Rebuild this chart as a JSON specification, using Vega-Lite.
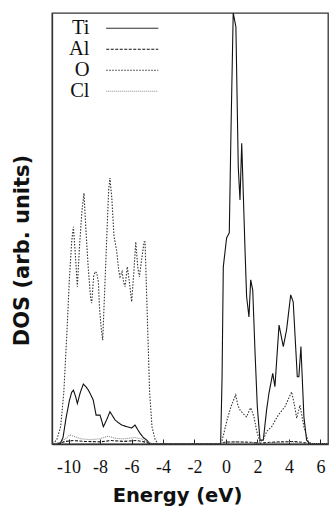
{
  "$schema": "https://vega.github.io/schema/vega-lite/v6.json",
  "width": 276,
  "height": 431,
  "autosize": "none",
  "padding": {"left": 52, "top": 13, "right": 3, "bottom": 62},
  "background": "white",
  "config": {
    "view": {"stroke": "#333", "strokeWidth": 1.3},
    "axis": {"grid": false, "domainColor": "#333", "domainWidth": 1.3},
    "legend": {
      "symbolType": "M-5.2,0H5.2",
      "symbolSize": 100,
      "symbolStrokeWidth": 1,
      "labelFont": "Liberation Serif",
      "labelFontSize": 20.5,
      "labelColor": "#111",
      "labelAlign": "right",
      "labelBaseline": "middle",
      "labelOffset": -53,
      "rowPadding": 0
    }
  },
  "data": {"values": [
    {"E": -11, "dos": 0, "s": "Ti"},
    {"E": -10.54, "dos": 0, "s": "Ti"},
    {"E": -10.35, "dos": 0.15, "s": "Ti"},
    {"E": -10.16, "dos": 0.6, "s": "Ti"},
    {"E": -9.95, "dos": 1.0, "s": "Ti"},
    {"E": -9.8, "dos": 1.2, "s": "Ti"},
    {"E": -9.69, "dos": 1.25, "s": "Ti"},
    {"E": -9.55, "dos": 1.1, "s": "Ti"},
    {"E": -9.44, "dos": 0.94, "s": "Ti"},
    {"E": -9.25, "dos": 1.2, "s": "Ti"},
    {"E": -9.06, "dos": 1.39, "s": "Ti"},
    {"E": -8.9, "dos": 1.33, "s": "Ti"},
    {"E": -8.74, "dos": 1.25, "s": "Ti"},
    {"E": -8.6, "dos": 1.15, "s": "Ti"},
    {"E": -8.43, "dos": 1.02, "s": "Ti"},
    {"E": -8.25, "dos": 0.67, "s": "Ti"},
    {"E": -8.0, "dos": 0.67, "s": "Ti"},
    {"E": -7.9, "dos": 0.55, "s": "Ti"},
    {"E": -7.79, "dos": 0.4, "s": "Ti"},
    {"E": -7.58, "dos": 0.56, "s": "Ti"},
    {"E": -7.37, "dos": 0.75, "s": "Ti"},
    {"E": -7.2, "dos": 0.65, "s": "Ti"},
    {"E": -7.05, "dos": 0.56, "s": "Ti"},
    {"E": -6.85, "dos": 0.5, "s": "Ti"},
    {"E": -6.62, "dos": 0.44, "s": "Ti"},
    {"E": -6.45, "dos": 0.42, "s": "Ti"},
    {"E": -6.27, "dos": 0.4, "s": "Ti"},
    {"E": -5.99, "dos": 0.37, "s": "Ti"},
    {"E": -5.78, "dos": 0.44, "s": "Ti"},
    {"E": -5.6, "dos": 0.33, "s": "Ti"},
    {"E": -5.46, "dos": 0.25, "s": "Ti"},
    {"E": -5.25, "dos": 0.15, "s": "Ti"},
    {"E": -5.03, "dos": 0.09, "s": "Ti"},
    {"E": -4.83, "dos": 0, "s": "Ti"},
    {"E": -0.34, "dos": 0, "s": "Ti"},
    {"E": -0.25, "dos": 1.5, "s": "Ti"},
    {"E": -0.17, "dos": 4.11, "s": "Ti"},
    {"E": 0.04, "dos": 4.78, "s": "Ti"},
    {"E": 0.21, "dos": 4.9, "s": "Ti"},
    {"E": 0.32, "dos": 7.3, "s": "Ti"},
    {"E": 0.46, "dos": 10.0, "s": "Ti"},
    {"E": 0.63, "dos": 9.68, "s": "Ti"},
    {"E": 0.78, "dos": 6.43, "s": "Ti"},
    {"E": 0.89, "dos": 5.66, "s": "Ti"},
    {"E": 1.0, "dos": 6.98, "s": "Ti"},
    {"E": 1.21, "dos": 4.5, "s": "Ti"},
    {"E": 1.31, "dos": 3.42, "s": "Ti"},
    {"E": 1.46, "dos": 2.95, "s": "Ti"},
    {"E": 1.57, "dos": 3.81, "s": "Ti"},
    {"E": 1.7, "dos": 3.57, "s": "Ti"},
    {"E": 1.84, "dos": 2.18, "s": "Ti"},
    {"E": 1.99, "dos": 0.87, "s": "Ti"},
    {"E": 2.16, "dos": 0.09, "s": "Ti"},
    {"E": 2.37, "dos": 0.09, "s": "Ti"},
    {"E": 2.58, "dos": 0.79, "s": "Ti"},
    {"E": 2.73, "dos": 1.18, "s": "Ti"},
    {"E": 2.97, "dos": 1.64, "s": "Ti"},
    {"E": 3.11, "dos": 1.33, "s": "Ti"},
    {"E": 3.37, "dos": 2.76, "s": "Ti"},
    {"E": 3.64, "dos": 2.26, "s": "Ti"},
    {"E": 3.85, "dos": 2.65, "s": "Ti"},
    {"E": 4.11, "dos": 3.46, "s": "Ti"},
    {"E": 4.27, "dos": 3.3, "s": "Ti"},
    {"E": 4.53, "dos": 1.56, "s": "Ti"},
    {"E": 4.63, "dos": 1.56, "s": "Ti"},
    {"E": 4.76, "dos": 2.26, "s": "Ti"},
    {"E": 4.95, "dos": 0.63, "s": "Ti"},
    {"E": 5.12, "dos": 0.09, "s": "Ti"},
    {"E": 5.33, "dos": 0, "s": "Ti"},
    {"E": 6.5, "dos": 0, "s": "Ti"},

    {"E": -11, "dos": 0, "s": "Al"},
    {"E": -10.6, "dos": 0.02, "s": "Al"},
    {"E": -10.2, "dos": 0.06, "s": "Al"},
    {"E": -9.7, "dos": 0.08, "s": "Al"},
    {"E": -9.0, "dos": 0.06, "s": "Al"},
    {"E": -8.0, "dos": 0.05, "s": "Al"},
    {"E": -7.3, "dos": 0.08, "s": "Al"},
    {"E": -6.5, "dos": 0.06, "s": "Al"},
    {"E": -5.7, "dos": 0.08, "s": "Al"},
    {"E": -5.2, "dos": 0.05, "s": "Al"},
    {"E": -4.8, "dos": 0.01, "s": "Al"},
    {"E": -4.5, "dos": 0, "s": "Al"},
    {"E": -0.4, "dos": 0, "s": "Al"},
    {"E": -0.1, "dos": 0.04, "s": "Al"},
    {"E": 0.5, "dos": 0.05, "s": "Al"},
    {"E": 1.5, "dos": 0.04, "s": "Al"},
    {"E": 2.2, "dos": 0.02, "s": "Al"},
    {"E": 2.8, "dos": 0.04, "s": "Al"},
    {"E": 3.5, "dos": 0.05, "s": "Al"},
    {"E": 4.3, "dos": 0.06, "s": "Al"},
    {"E": 4.8, "dos": 0.04, "s": "Al"},
    {"E": 5.3, "dos": 0.01, "s": "Al"},
    {"E": 5.6, "dos": 0, "s": "Al"},
    {"E": 6.5, "dos": 0, "s": "Al"},

    {"E": -11, "dos": 0, "s": "O"},
    {"E": -10.75, "dos": 0.1, "s": "O"},
    {"E": -10.5, "dos": 0.4, "s": "O"},
    {"E": -10.3, "dos": 1.2, "s": "O"},
    {"E": -10.1, "dos": 2.6, "s": "O"},
    {"E": -9.95, "dos": 3.8, "s": "O"},
    {"E": -9.8, "dos": 4.7, "s": "O"},
    {"E": -9.69, "dos": 5.04, "s": "O"},
    {"E": -9.55, "dos": 4.3, "s": "O"},
    {"E": -9.44, "dos": 3.65, "s": "O"},
    {"E": -9.3, "dos": 4.6, "s": "O"},
    {"E": -9.15, "dos": 5.4, "s": "O"},
    {"E": -9.02, "dos": 5.82, "s": "O"},
    {"E": -8.9, "dos": 5.0, "s": "O"},
    {"E": -8.75, "dos": 4.1, "s": "O"},
    {"E": -8.6, "dos": 3.4, "s": "O"},
    {"E": -8.53, "dos": 3.27, "s": "O"},
    {"E": -8.4, "dos": 3.9, "s": "O"},
    {"E": -8.3, "dos": 4.0, "s": "O"},
    {"E": -8.21, "dos": 3.97, "s": "O"},
    {"E": -8.1, "dos": 3.75, "s": "O"},
    {"E": -8.04, "dos": 3.2, "s": "O"},
    {"E": -7.93, "dos": 2.7, "s": "O"},
    {"E": -7.83, "dos": 2.41, "s": "O"},
    {"E": -7.7, "dos": 3.6, "s": "O"},
    {"E": -7.55, "dos": 5.0, "s": "O"},
    {"E": -7.45, "dos": 5.9, "s": "O"},
    {"E": -7.37, "dos": 6.17, "s": "O"},
    {"E": -7.25, "dos": 5.7, "s": "O"},
    {"E": -7.11, "dos": 4.81, "s": "O"},
    {"E": -6.95, "dos": 4.5, "s": "O"},
    {"E": -6.8, "dos": 4.0, "s": "O"},
    {"E": -6.73, "dos": 3.88, "s": "O"},
    {"E": -6.6, "dos": 4.0, "s": "O"},
    {"E": -6.5, "dos": 3.75, "s": "O"},
    {"E": -6.41, "dos": 3.65, "s": "O"},
    {"E": -6.27, "dos": 4.11, "s": "O"},
    {"E": -6.15, "dos": 3.8, "s": "O"},
    {"E": -5.99, "dos": 3.3, "s": "O"},
    {"E": -5.85, "dos": 4.0, "s": "O"},
    {"E": -5.73, "dos": 4.69, "s": "O"},
    {"E": -5.6, "dos": 4.1, "s": "O"},
    {"E": -5.5, "dos": 3.88, "s": "O"},
    {"E": -5.35, "dos": 4.3, "s": "O"},
    {"E": -5.2, "dos": 4.69, "s": "O"},
    {"E": -5.14, "dos": 4.69, "s": "O"},
    {"E": -5.0, "dos": 3.0, "s": "O"},
    {"E": -4.85, "dos": 1.2, "s": "O"},
    {"E": -4.7, "dos": 0.4, "s": "O"},
    {"E": -4.5, "dos": 0.1, "s": "O"},
    {"E": -4.3, "dos": 0, "s": "O"},
    {"E": -0.5, "dos": 0, "s": "O"},
    {"E": -0.27, "dos": 0.05, "s": "O"},
    {"E": -0.1, "dos": 0.3, "s": "O"},
    {"E": 0.1, "dos": 0.6, "s": "O"},
    {"E": 0.35, "dos": 0.9, "s": "O"},
    {"E": 0.62, "dos": 1.14, "s": "O"},
    {"E": 0.75, "dos": 0.9, "s": "O"},
    {"E": 0.89, "dos": 0.79, "s": "O"},
    {"E": 1.1, "dos": 0.7, "s": "O"},
    {"E": 1.31, "dos": 0.63, "s": "O"},
    {"E": 1.45, "dos": 0.75, "s": "O"},
    {"E": 1.57, "dos": 0.84, "s": "O"},
    {"E": 1.78, "dos": 0.63, "s": "O"},
    {"E": 1.95, "dos": 0.3, "s": "O"},
    {"E": 2.16, "dos": 0.05, "s": "O"},
    {"E": 2.37, "dos": 0.1, "s": "O"},
    {"E": 2.6, "dos": 0.3, "s": "O"},
    {"E": 2.9, "dos": 0.4, "s": "O"},
    {"E": 3.32, "dos": 0.67, "s": "O"},
    {"E": 3.75, "dos": 0.87, "s": "O"},
    {"E": 4.17, "dos": 1.21, "s": "O"},
    {"E": 4.35, "dos": 0.9, "s": "O"},
    {"E": 4.49, "dos": 0.6, "s": "O"},
    {"E": 4.7, "dos": 0.9, "s": "O"},
    {"E": 4.95, "dos": 0.4, "s": "O"},
    {"E": 5.23, "dos": 0.05, "s": "O"},
    {"E": 5.5, "dos": 0, "s": "O"},
    {"E": 6.5, "dos": 0, "s": "O"},

    {"E": -11, "dos": 0, "s": "Cl"},
    {"E": -10.6, "dos": 0.03, "s": "Cl"},
    {"E": -10.2, "dos": 0.12, "s": "Cl"},
    {"E": -9.9, "dos": 0.21, "s": "Cl"},
    {"E": -9.6, "dos": 0.17, "s": "Cl"},
    {"E": -9.2, "dos": 0.12, "s": "Cl"},
    {"E": -8.6, "dos": 0.1, "s": "Cl"},
    {"E": -8.0, "dos": 0.12, "s": "Cl"},
    {"E": -7.5, "dos": 0.18, "s": "Cl"},
    {"E": -7.0, "dos": 0.13, "s": "Cl"},
    {"E": -6.5, "dos": 0.12, "s": "Cl"},
    {"E": -5.8, "dos": 0.15, "s": "Cl"},
    {"E": -5.4, "dos": 0.12, "s": "Cl"},
    {"E": -5.0, "dos": 0.05, "s": "Cl"},
    {"E": -4.6, "dos": 0, "s": "Cl"},
    {"E": -0.4, "dos": 0, "s": "Cl"},
    {"E": -0.1, "dos": 0.03, "s": "Cl"},
    {"E": 0.6, "dos": 0.05, "s": "Cl"},
    {"E": 1.5, "dos": 0.04, "s": "Cl"},
    {"E": 2.2, "dos": 0.02, "s": "Cl"},
    {"E": 3.0, "dos": 0.03, "s": "Cl"},
    {"E": 4.0, "dos": 0.05, "s": "Cl"},
    {"E": 4.8, "dos": 0.03, "s": "Cl"},
    {"E": 5.3, "dos": 0, "s": "Cl"},
    {"E": 6.5, "dos": 0, "s": "Cl"}
  ]},
  "mark": {"type": "line", "strokeWidth": 1.1, "clip": true},
  "encoding": {
    "x": {
      "field": "E", "type": "quantitative",
      "scale": {"domain": [-11.05, 6.48], "nice": false, "zero": false},
      "axis": {
        "values": [-10, -8, -6, -4, -2, 0, 2, 4, 6],
        "labelExpr": "datum.value < 0 ? '-' + abs(datum.value) : '' + datum.value",
        "tickSize": -5,
        "tickColor": "#222",
        "labelFont": "Liberation Serif",
        "labelFontSize": 18,
        "labelColor": "#111",
        "labelBaseline": "alphabetic",
        "labelPadding": 33,
        "title": "Energy (eV)",
        "titleFont": "DejaVu Sans",
        "titleFontWeight": "bold",
        "titleFontSize": 19.5,
        "titleColor": "#111",
        "titleX": 125,
        "titleY": 57,
        "titleBaseline": "alphabetic"
      }
    },
    "y": {
      "field": "dos", "type": "quantitative",
      "scale": {"domain": [0, 10], "nice": false},
      "axis": {
        "labels": false, "ticks": false,
        "title": "DOS (arb. units)",
        "titleFont": "DejaVu Sans",
        "titleFontWeight": "bold",
        "titleFontSize": 21,
        "titleColor": "#111",
        "titleX": -30,
        "titleY": 237,
        "titleBaseline": "middle",
        "titleAngle": -90
      }
    },
    "color": {
      "field": "s", "type": "nominal",
      "scale": {"domain": ["Ti", "Al", "O", "Cl"], "range": ["#111", "#111", "#333", "#888"]},
      "legend": {"title": null, "orient": "none", "legendX": 70, "legendY": 5}
    },
    "strokeDash": {
      "field": "s", "type": "nominal",
      "scale": {"domain": ["Ti", "Al", "O", "Cl"], "range": [[1, 0], [3, 1.5], [1.5, 1.5], [1, 1]]},
      "legend": {"title": null, "orient": "none", "legendX": 70, "legendY": 5}
    }
  }
}
